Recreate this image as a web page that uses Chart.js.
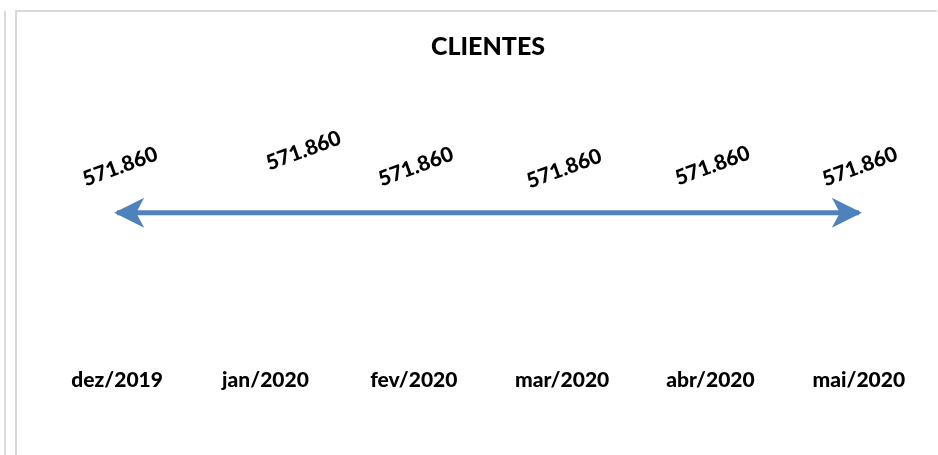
<!DOCTYPE html>
<html>
<head>
<meta charset="utf-8">
<script src="https://cdn.jsdelivr.net/npm/chart.js@4.4.0/dist/chart.umd.min.js"></script>
<style>
  html, body { margin: 0; padding: 0; background: #fff; }
  #wrap { position: relative; width: 938px; height: 455px; overflow: hidden; }
  .frame { position: absolute; background: #d9d9d9; }
  canvas { position: absolute; left: 0; top: 0; }
</style>
</head>
<body>
<div id="wrap">
  <div class="frame" style="left:4px; top:11px; width:2px; height:444px;"></div>
  <div class="frame" style="left:15px; top:10px; width:2px; height:445px;"></div>
  <div class="frame" style="left:15px; top:10px; width:922px; height:2px;"></div>
  <canvas id="mainChart" width="938" height="455"></canvas>
</div>
<script>
const months = ['dez/2019', 'jan/2020', 'fev/2020', 'mar/2020', 'abr/2020', 'mai/2020'];
const clientes = [571860, 571860, 571860, 571860, 571860, 571860];

// label nudges (px) relative to each point, as in the original sheet
const labelShift = [[3, -46], [38, -62], [2, -46], [2, -44], [2, -47], [1, -46]];

const FONT = "Lato, 'Open Sans', sans-serif";
const lineBlue = '#4f81bd';

// draws the arrow heads at both ends of the line
const arrowEnds = {
  id: 'arrowEnds',
  afterDatasetsDraw(chart) {
    const pts = chart.getDatasetMeta(0).data;
    const ctx = chart.ctx;
    const head = (from, to) => {
      const ang = Math.atan2(to.y - from.y, to.x - from.x);
      const len = 30, half = 15, notch = 22;
      ctx.save();
      ctx.translate(to.x, to.y);
      ctx.rotate(ang);
      ctx.beginPath();
      ctx.moveTo(3, 0);
      ctx.lineTo(3 - len, -half);
      ctx.lineTo(3 - notch, 0);
      ctx.lineTo(3 - len, half);
      ctx.closePath();
      ctx.fillStyle = lineBlue;
      ctx.fill();
      ctx.restore();
    };
    head(pts[1], pts[0]);
    head(pts[pts.length - 2], pts[pts.length - 1]);
  }
};

// rotated value labels
const valueLabels = {
  id: 'valueLabels',
  afterDatasetsDraw(chart) {
    const ctx = chart.ctx;
    const pts = chart.getDatasetMeta(0).data;
    ctx.save();
    ctx.font = "900 21px " + FONT;
    ctx.fillStyle = '#000';
    ctx.textAlign = 'center';
    ctx.textBaseline = 'middle';
    pts.forEach((p, i) => {
      const txt = clientes[i].toLocaleString('pt-BR');
      ctx.save();
      ctx.translate(p.x + labelShift[i][0], p.y + labelShift[i][1]);
      ctx.rotate(-20 * Math.PI / 180);
      ctx.fillText(txt, 0, 0);
      ctx.restore();
    });
    ctx.restore();
  }
};

const ctx = document.getElementById('mainChart').getContext('2d');
new Chart(ctx, {
  type: 'line',
  data: {
    labels: months,
    datasets: [{
      label: 'CLIENTES',
      data: clientes,
      borderColor: lineBlue,
      borderWidth: 5,
      pointRadius: 0,
      fill: false,
      tension: 0
    }]
  },
  options: {
    responsive: false,
    animation: false,
    layout: { padding: { left: 43, right: 5, top: 22, bottom: 59 } },
    plugins: {
      legend: { display: false },
      tooltip: { enabled: false },
      title: {
        display: true,
        text: 'CLIENTES',
        color: '#000',
        font: { family: FONT, size: 25, weight: '900' },
        padding: { top: 10, bottom: 10 }
      }
    },
    scales: {
      x: {
        offset: true,
        grid: { display: false },
        border: { display: false },
        ticks: {
          color: '#000',
          maxRotation: 0,
          padding: 3,
          font: { family: FONT, size: 21, weight: '900' }
        }
      },
      y: {
        display: false,
        min: 0,
        max: 1130000
      }
    }
  },
  plugins: [arrowEnds, valueLabels]
});
</script>
</body>
</html>
